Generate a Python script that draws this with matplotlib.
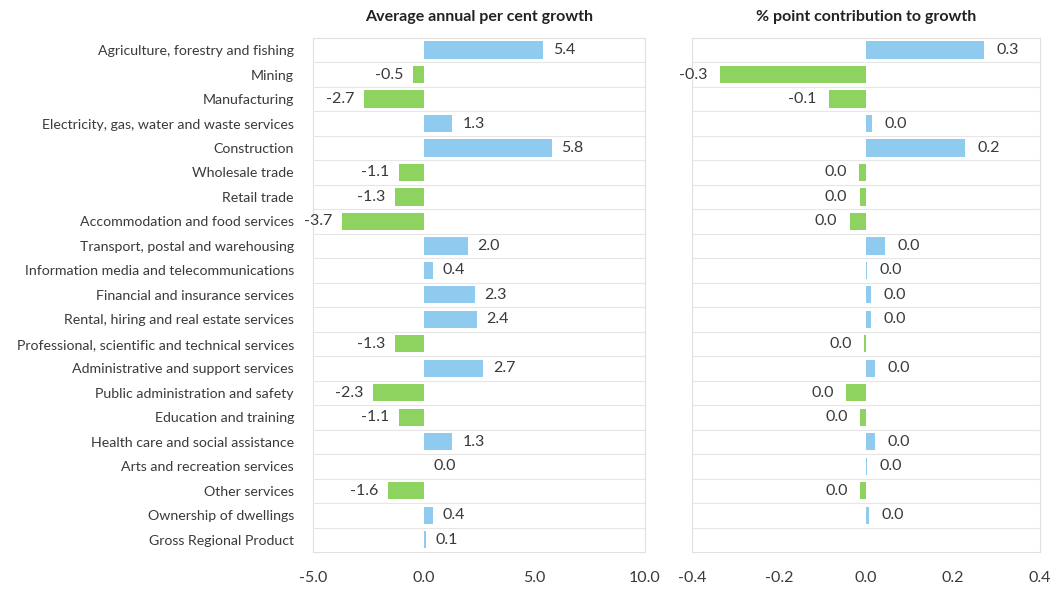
import numpy as np
import matplotlib.pyplot as plt

# Industry categories, top to bottom
industries = [
    'Agriculture, forestry and fishing',
    'Mining',
    'Manufacturing',
    'Electricity, gas, water and waste services',
    'Construction',
    'Wholesale trade',
    'Retail trade',
    'Accommodation and food services',
    'Transport, postal and warehousing',
    'Information media and telecommunications',
    'Financial and insurance services',
    'Rental, hiring and real estate services',
    'Professional, scientific and technical services',
    'Administrative and support services',
    'Public administration and safety',
    'Education and training',
    'Health care and social assistance',
    'Arts and recreation services',
    'Other services',
    'Ownership of dwellings',
    'Gross Regional Product',
]

# Average annual per cent growth
growth = [5.4, -0.5, -2.7, 1.3, 5.8, -1.1, -1.3, -3.7, 2.0, 0.4, 2.3, 2.4,
          -1.3, 2.7, -2.3, -1.1, 1.3, 0.0, -1.6, 0.4, 0.1]

# Percentage point contribution to growth (no value for GRP)
contribution = [0.27, -0.336, -0.085, 0.014, 0.228, -0.016, -0.015, -0.038,
                0.043, 0.002, 0.010, 0.011, -0.004, 0.021, -0.046, -0.013,
                0.021, 0.001, -0.013, 0.006, None]

BLUE = '#8ecbee'
GREEN = '#8ed35f'
TEXT = '#3a3a3a'

plt.rcParams['font.family'] = ['Lato', 'DejaVu Sans']

fig = plt.figure(figsize=(10.55, 5.91), dpi=100)
ax1 = fig.add_axes([0.297, 0.066, 0.314, 0.870])
ax2 = fig.add_axes([0.656, 0.066, 0.330, 0.870])

y = np.arange(len(industries))


def label(v):
    # round first so tiny negatives print as 0.0
    return f'{round(v, 1) + 0.0:.1f}'


def draw_panel(ax, values, xlim, ticks, title, offset):
    for yi, v in zip(y, values):
        if v is None:
            continue
        ax.barh(yi, v, height=0.7, color=BLUE if v >= 0 else GREEN, zorder=2)
        ha = 'left' if v >= 0 else 'right'
        ax.annotate(label(v), (v, yi), xytext=(offset if v >= 0 else -offset, 0),
                    textcoords='offset points', ha=ha, va='center',
                    fontsize=11.5, color=TEXT)
    ax.set_xlim(*xlim)
    ax.set_ylim(len(industries) - 0.5, -0.5)
    ax.set_xticks(ticks)
    ax.set_xticklabels([f'{t:.1f}' for t in ticks], fontsize=11.5, color=TEXT)
    ax.tick_params(axis='x', length=0, pad=14)
    ax.tick_params(axis='y', length=0)
    # faint row separators
    for b in np.arange(0.5, len(industries) - 0.5, 1):
        ax.axhline(b, color='#e6e6e6', lw=0.8, zorder=0)
    for s in ax.spines.values():
        s.set_color('#e0e0e0')
        s.set_linewidth(0.8)
    ax.set_title(title, fontsize=11.5, fontweight='bold', color='#222222', pad=12)


draw_panel(ax1, growth, (-5, 10), [-5, 0, 5, 10],
           'Average annual per cent growth', 7)
ax1.set_yticks(y)
ax1.set_yticklabels(industries, fontsize=10.2, color=TEXT)
ax1.tick_params(axis='y', pad=14)

draw_panel(ax2, contribution, (-0.4, 0.4), [-0.4, -0.2, 0.0, 0.2, 0.4],
           '% point contribution to growth', 9)
ax2.set_yticks([])

fig.savefig('out.png', dpi=100, facecolor='white')
